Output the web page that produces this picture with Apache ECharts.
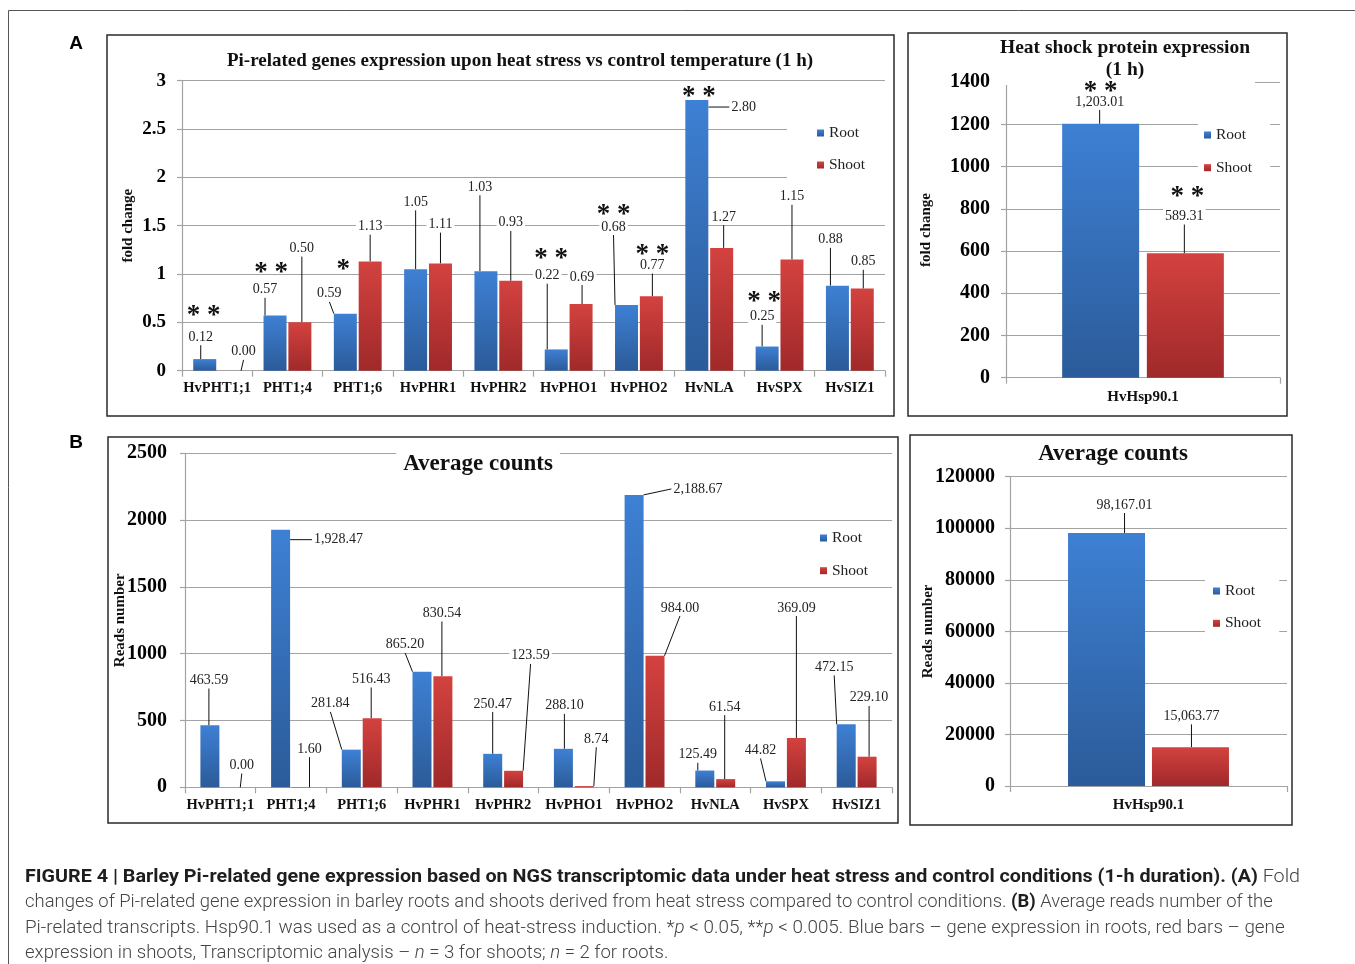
<!DOCTYPE html>
<html><head><meta charset="utf-8">
<script src="https://cdn.jsdelivr.net/npm/echarts/dist/echarts.min.js"></script>
<style>
html,body{margin:0;padding:0;background:#fff;}
#chart{position:absolute;left:0;top:0;width:1355px;height:964px;}
.cap{position:absolute;left:25px;white-space:nowrap;font-family:Roboto,'Liberation Sans',sans-serif;font-size:18px;line-height:22px;color:#444;font-weight:300;transform-origin:0 50%;}
.cap b{font-weight:700;color:#1e1e1e;}
</style></head><body>
<div id="chart"></div>
<div class="cap" data-w="1275" style="top:865px"><b>FIGURE 4 | Barley Pi-related gene expression based on NGS transcriptomic data under heat stress and control conditions (1-h duration). (A)</b> Fold</div>
<div class="cap" data-w="1248" style="top:890px">changes of Pi-related gene expression in barley roots and shoots derived from heat stress compared to control conditions. <b>(B)</b> Average reads number of the</div>
<div class="cap" data-w="1260" style="top:916px">Pi-related transcripts. Hsp90.1 was used as a control of heat-stress induction. *<i>p</i> &lt; 0.05, **<i>p</i> &lt; 0.005. Blue bars – gene expression in roots, red bars – gene</div>
<div class="cap" data-w="643" style="top:941px">expression in shoots, Transcriptomic analysis – <i>n</i> = 3 for shoots; <i>n</i> = 2 for roots.</div>
<script>
// ---------------- data ----------------
const categories = ['HvPHT1;1','PHT1;4','PHT1;6','HvPHR1','HvPHR2','HvPHO1','HvPHO2','HvNLA','HvSPX','HvSIZ1'];
const hspCategories = ['HvHsp90.1'];
const rootFold  = [0.12,0.57,0.59,1.05,1.03,0.22,0.68,2.80,0.25,0.88];
const shootFold = [0.00,0.50,1.13,1.11,0.93,0.69,0.77,1.27,1.15,0.85];
const rootFoldSig  = ['**','**','*','','','**','**','**','**',''];
const shootFoldSig = ['','','','','','','**','','',''];
const hspRootFold = [1203.01];
const hspShootFold = [589.31];
const hspRootFoldSig = ['**'];
const hspShootFoldSig = ['**'];
const rootCounts  = [463.59,1928.47,281.84,865.20,250.47,288.10,2188.67,125.49,44.82,472.15];
const shootCounts = [0.00,1.60,516.43,830.54,123.59,8.74,984.00,61.54,369.09,229.10];
const hspRootCounts = [98167.01];
const hspShootCounts = [15063.77];
const noSig10 = ['','','','','','','','','',''];

// ---------------- layout (label offsets from bar-top centre, px) ----------------
const offFoldRoot  = [[-4,-22],[-10,-26],[-16,-20],[0,-67],[-6,-84],[-9,-74],[-13,-78],[47,7],[-5,-30],[-7,-46]];
const offFoldShoot = [[14,-19],[2,-74],[0,-35],[0,-39],[0,-58],[1,-27],[1,-31],[2,-31],[0,-63],[1,-27]];
const offHspFoldRoot = [[-1,-22]], offHspFoldShoot = [[-1,-37]];
const offCntRoot  = [[-1,-45],[58,10],[-21,-46],[-17,-27],[0,-50],[1,-43],[64,-6],[-7,-16],[-15,-31],[-12,-57]];
const offCntShoot = [[11,-22],[8,-38],[-1,-39],[-1,-63],[17,-115],[12,-47],[25,-48],[-1,-72],[0,-130],[2,-59]];
const offHspCntRoot = [[18,-28]], offHspCntShoot = [[1,-31]];
const starFoldRoot  = [[-1,-48],[-4,-48],[-2,-49],null,null,[-5,-95],[-13,-95],[2,-8],[-3,-50],null];
const starFoldShoot = [null,null,null,null,null,null,[1,-46],null,null,null];
const starHspRoot = [[0,-37]], starHspShoot = [[2,-61]];
const STAR_SHIFT = 5;

const SERIF = '"Liberation Serif", "Times New Roman", serif';
const GRID = '#a3a3a3';
function grad(t,b){return new echarts.graphic.LinearGradient(0,0,0,1,[{offset:0,color:t},{offset:1,color:b}]);}
const BLUE = grad('#3e80d4','#2b5b99');
const RED = grad('#d3423f','#a0292a');
function fmt2(v){return v.toFixed(2);}
function fmtC(v){const s=v.toFixed(2).split('.');return s[0].replace(/\B(?=(\d{3})+(?!\d))/g,',')+'.'+s[1];}

function barSeries(name, gi, cats, values, fmt, offs, sig, stars, barWidth, barGap, color){
  const mp = [];
  sig.forEach((s,i)=>{ if(s){ mp.push({name:s, coord:[cats[i], values[i]], label:{offset:[stars[i][0], stars[i][1]+STAR_SHIFT]}}); }});
  return {
    type:'bar', name, xAxisIndex:gi, yAxisIndex:gi, data:values, barWidth, barGap,
    itemStyle:{color},
    label:{show:true, position:'top', formatter:p=>fmt(p.value), fontFamily:SERIF, fontSize:14, color:'#222', backgroundColor:'#fff', padding:[1,2]},
    labelLine:{show:true, lineStyle:{color:'#111', width:1}},
    labelLayout:p=>{const o=offs[p.dataIndex]; return {x:p.rect.x+p.rect.width/2+o[0], y:p.rect.y+o[1], align:'center', verticalAlign:'middle'};},
    markPoint: mp.length ? {
      symbol:'rect', symbolSize:1, itemStyle:{color:'rgba(0,0,0,0)'}, silent:true,
      label:{show:true, position:'inside', formatter:p=>p.name.split('').join(' '), fontFamily:SERIF, fontWeight:'bold', fontSize:27, color:'#111'},
      data: mp
    } : undefined
  };
}
function xAx(gi, data, fs, margin){
  return {type:'category', gridIndex:gi, data,
    axisLine:{show:true, lineStyle:{color:GRID, width:1.2}},
    axisTick:{show:true, length:6, lineStyle:{color:GRID, width:1.2}},
    axisLabel:{fontFamily:SERIF, fontWeight:'bold', fontSize:fs, color:'#111', margin, interval:0},
    splitLine:{show:false}};
}
function yAx(gi, max, interval, name, nameGap, margin, fs){
  return {type:'value', gridIndex:gi, min:0, max, interval, name, nameLocation:'middle', nameGap, nameMoveOverlap:false,
    nameTextStyle:{fontFamily:SERIF, fontWeight:'bold', fontSize:15, color:'#111'},
    axisLine:{show:true, lineStyle:{color:GRID, width:1.2}},
    axisTick:{show:true, length:5, lineStyle:{color:GRID, width:1.2}},
    axisLabel:{fontFamily:SERIF, fontWeight:'bold', fontSize:fs, color:'#000', margin, formatter:v=>String(v)},
    splitLine:{show:true, lineStyle:{color:GRID, width:1.2}}};
}
function legend(left, top, gap, padding){
  return {left, top, orient:'vertical', icon:'rect', itemWidth:7, itemHeight:7, itemGap:gap, padding,
    backgroundColor:'#fff', selectedMode:false, data:['Root','Shoot'],
    textStyle:{fontFamily:SERIF, fontSize:15.5, color:'#222', lineHeight:16}};
}
function title(text, left, top, fs, lh, padding, bg){
  return {text, left, top, textAlign:'center', padding, z:1, backgroundColor:bg||'transparent',
    textStyle:{fontFamily:SERIF, fontWeight:'bold', fontSize:fs, lineHeight:lh, color:'#111'}};
}

const chart = echarts.init(document.getElementById('chart'), null, {renderer:'canvas'});
chart.setOption({
  animation:false,
  backgroundColor:'#fff',
  title:[
    title('Pi-related genes expression upon heat stress vs control temperature (1 h)', 517, 48, 19, 22, [2,3,2,3]),
    title('Heat shock protein expression\n(1 h)', 1119, 35, 19.5, 22, [2,5,4,6], '#fff'),
    title('Average counts', 471, 448, 23, 25, [4,7,4,7], '#fff'),
    title('Average counts', 1106, 439, 23, 25, [3,7,3,7], '#fff')
  ],
  legend:[
    legend(787, 118, 16, [7,22,9,30]),
    legend(1198, 121, 16.7, [6,18,6,6]),
    legend(815, 530, 16.7, [0,5,0,5]),
    legend(1205, 577, 16.3, [6,18,4,8])
  ],
  grid:[
    {left:182, top:80.7, width:703, height:290, outerBoundsMode:'none'},
    {left:1006, top:82.3, width:274, height:295.4, outerBoundsMode:'none'},
    {left:185, top:453.3, width:707, height:334, outerBoundsMode:'none'},
    {left:1010, top:476.7, width:277, height:309.3, outerBoundsMode:'none'}
  ],
  xAxis:[ xAx(0, categories, 14.5, 10), xAx(1, hspCategories, 15, 12), xAx(2, categories, 14.5, 10), xAx(3, hspCategories, 15, 12) ],
  yAxis:[ yAx(0, 3, 0.5, 'fold change', 46, 16, 19), yAx(1, 1400, 200, 'fold change', 72, 16, 20),
          yAx(2, 2500, 500, 'Reads number', 57, 18, 20), yAx(3, 120000, 20000, 'Reads number', 74, 15, 20) ],
  series:[
    barSeries('Root', 0, categories, rootFold, fmt2, offFoldRoot, rootFoldSig, starFoldRoot, 23, '8%', BLUE),
    barSeries('Shoot', 0, categories, shootFold, fmt2, offFoldShoot, shootFoldSig, starFoldShoot, 23, '8%', RED),
    barSeries('Root', 1, hspCategories, hspRootFold, fmtC, offHspFoldRoot, hspRootFoldSig, starHspRoot, 77, '10%', BLUE),
    barSeries('Shoot', 1, hspCategories, hspShootFold, fmt2, offHspFoldShoot, hspShootFoldSig, starHspShoot, 77, '10%', RED),
    barSeries('Root', 2, categories, rootCounts, fmtC, offCntRoot, noSig10, [], 19, '10%', BLUE),
    barSeries('Shoot', 2, categories, shootCounts, fmtC, offCntShoot, noSig10, [], 19, '10%', RED),
    barSeries('Root', 3, hspCategories, hspRootCounts, fmtC, offHspCntRoot, [''], [], 77, '9%', BLUE),
    barSeries('Shoot', 3, hspCategories, hspShootCounts, fmtC, offHspCntShoot, [''], [], 77, '9%', RED)
  ],
  graphic:[
    {type:'polyline', silent:true, z:100, shape:{points:[[1355,10.5],[8.5,10.5],[8.5,964]]}, style:{fill:null, stroke:'#555', lineWidth:1}},
    {type:'rect', silent:true, z:100, shape:{x:107,y:35,width:787,height:381}, style:{fill:null, stroke:'#2a2a2a', lineWidth:1.5}},
    {type:'rect', silent:true, z:100, shape:{x:908,y:33,width:379,height:383}, style:{fill:null, stroke:'#2a2a2a', lineWidth:1.5}},
    {type:'rect', silent:true, z:100, shape:{x:108,y:437,width:790,height:386}, style:{fill:null, stroke:'#2a2a2a', lineWidth:1.5}},
    {type:'rect', silent:true, z:100, shape:{x:910,y:435,width:382,height:390}, style:{fill:null, stroke:'#2a2a2a', lineWidth:1.5}},
    {type:'text', silent:true, z:100, style:{text:'A', x:76, y:44, textAlign:'center', textVerticalAlign:'middle', align:'center', verticalAlign:'middle', font:'bold 19px "Liberation Sans", Arial, sans-serif', fill:'#000'}},
    {type:'text', silent:true, z:100, style:{text:'B', x:76, y:443, textAlign:'center', textVerticalAlign:'middle', align:'center', verticalAlign:'middle', font:'bold 19px "Liberation Sans", Arial, sans-serif', fill:'#000'}}
  ]
});
document.querySelectorAll('.cap').forEach(el=>{const w=el.scrollWidth; const t=+el.dataset.w; if(w>0) el.style.transform='scaleX('+(t/w)+')';});
</script>
</body></html>
